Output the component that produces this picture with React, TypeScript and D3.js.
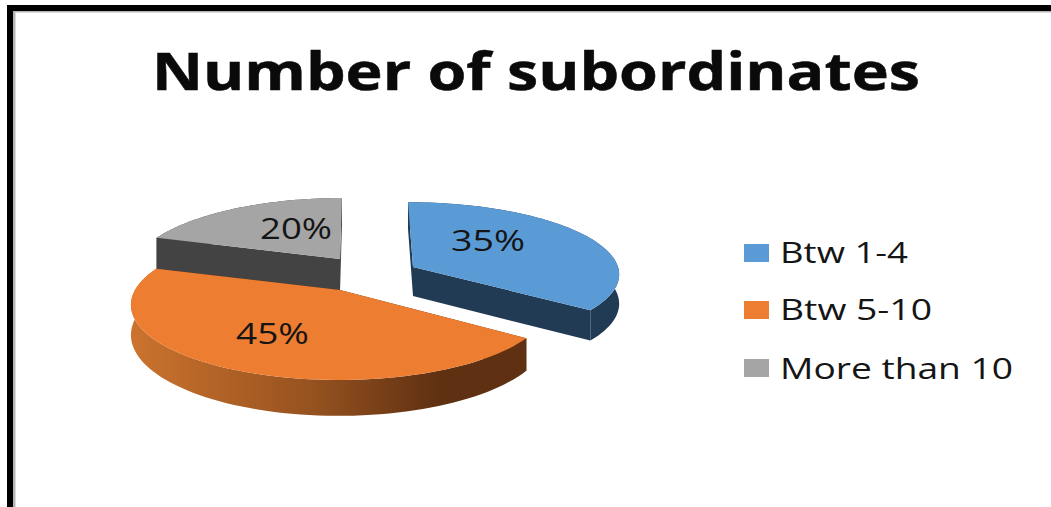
import React from "react";
import * as d3 from "d3";

const categories = ["Btw 1-4", "Btw 5-10", "More than 10"];
const shares = [35, 45, 20];
const topColors = ["#5b9bd5", "#ed7d31", "#a5a5a5"];
const wallColors = ["#223b55", "url(#orangeWall)", "#434343"];

const chartTitle = "Number of subordinates";

// Each exploded slice has its own tip and perspective settings.
const discs = [
  { x: 413, y: 267, rx: 205, ry: 70, tilt: 0.08, depth: 29, vanish: 346 },
  { x: 340, y: 290, rx: 205, ry: 72.7, tilt: 0.192, depth: 29, vanish: 345 },
  { x: 340, y: 259, rx: 205, ry: 72.7, tilt: 0.192, depth: 33, vanish: 352 },
];
const valueLabels = [
  { x: 451, y: 251, w: 74 },
  { x: 236, y: 344, w: 73 },
  { x: 260, y: 239, w: 72 },
];
const legendRows = [
  { box: 244, base: 263, w: 128 },
  { box: 301, base: 320, w: 152 },
  { box: 359, base: 379, w: 233 },
];

type Pt = [number, number];
type Disc = (typeof discs)[number];

function project(d: Disc, angle: number, drop = 0): Pt {
  const u = Math.sin(angle);
  const v = -Math.cos(angle);
  const s = 1 / (1 - d.tilt * v);
  const a = d.x - d.vanish;
  return [d.x + (d.rx * u + a) * s - a, d.y + d.ry * v * s + drop * s];
}

const path = d3.line<Pt>();

export default function App() {
  const slices = d3.pie<number>().sort(null)(shares);
  // Painted back to front so the nearer slice overlaps the grey one.
  const order = [2, 1, 0];

  return (
    <svg
      width={1051}
      height={507}
      style={{ position: "absolute", left: 0, top: 0, background: "#fff" }}
      fontFamily="'Open Sans', sans-serif"
    >
      <defs>
        <linearGradient id="orangeWall" gradientUnits="userSpaceOnUse" x1={135} x2={526} y1={0} y2={0}>
          <stop offset="0" stopColor="#cb722e" />
          <stop offset="0.45" stopColor="#96521f" />
          <stop offset="0.78" stopColor="#5f3012" />
          <stop offset="1" stopColor="#5f3012" />
        </linearGradient>
      </defs>

      {/* Page frame */}
      <rect x={7} y={5} width={1044} height={6} fill="#000" />
      <rect x={7} y={5} width={6} height={502} fill="#000" />
      <rect x={13} y={11} width={1038} height={1.5} fill="#b5b5b5" />
      <rect x={13} y={11} width={2.5} height={496} fill="#b5b5b5" />

      <text x={152} y={90} fontSize={52} fontWeight={700} fill="#0a0a0a" stroke="#0a0a0a" strokeWidth={0.5} textLength={768} lengthAdjust="spacingAndGlyphs">
        {chartTitle}
      </text>

      {order.map((i) => {
        const slice = slices[i];
        const d = discs[i];
        const steps = d3.range(0, 81).map((k) => slice.startAngle + ((slice.endAngle - slice.startAngle) * k) / 80);
        const rim = steps.map((a) => project(d, a));
        const rimLow = steps.map((a) => project(d, a, d.depth));
        const tip: Pt = [d.x, d.y];
        const tipLow: Pt = [d.x, d.y + d.depth];
        const startEdge: Pt[] = [tip, rim[0], rimLow[0], tipLow];
        const endEdge: Pt[] = [tip, rim[80], rimLow[80], tipLow];
        const solid = i === 1 ? "#5f3012" : wallColors[i];
        return (
          <g key={categories[i]}>
            <path d={path(startEdge) + "Z"} fill={solid} />
            <path d={path(endEdge) + "Z"} fill={solid} />
            <path d={path([...rim, ...rimLow.slice().reverse()]) + "Z"} fill={wallColors[i]} />
            <path d={path([tip, ...rim]) + "Z"} fill={topColors[i]} />
          </g>
        );
      })}

      {shares.map((v, i) => (
        <text key={i} x={valueLabels[i].x} y={valueLabels[i].y} fontSize={29} fill="#151515" textLength={valueLabels[i].w} lengthAdjust="spacingAndGlyphs">
          {`${v}%`}
        </text>
      ))}

      {categories.map((c, i) => (
        <g key={c}>
          <rect x={744} y={legendRows[i].box} width={25} height={18} fill={topColors[i]} />
          <text x={780} y={legendRows[i].base} fontSize={29} fill="#151515" textLength={legendRows[i].w} lengthAdjust="spacingAndGlyphs">
            {c}
          </text>
        </g>
      ))}
    </svg>
  );
}
